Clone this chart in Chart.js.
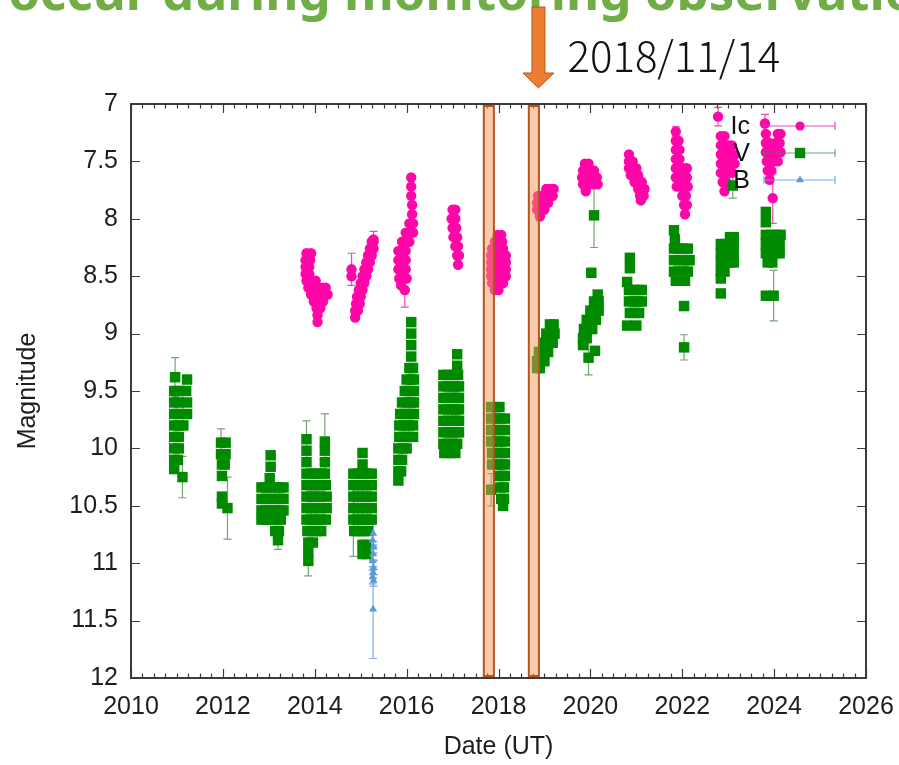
<!DOCTYPE html>
<html>
<head>
<meta charset="utf-8">
<script src="https://cdn.jsdelivr.net/npm/chart.js@4/dist/chart.umd.min.js"></script>
<style>
  html, body { margin: 0; padding: 0; background: #ffffff; }
  #wrap { width: 899px; height: 765px; position: relative; }
  canvas { display: block; }
</style>
</head>
<body>
<div id="wrap"><canvas id="lc" width="899" height="765"></canvas></div>
<script>
// Multi-band light curve (Ic, V, B) with photometric error bars.

const yearTicks = [2010, 2012, 2014, 2016, 2018, 2020, 2022, 2024, 2026];
const magTicks = [7, 7.5, 8, 8.5, 9, 9.5, 10, 10.5, 11, 11.5, 12];
const bandNames = ['Ic', 'V', 'B'];

// Dense measurements, one row per magnitude level: [magnitude, year, year, ...]
const icRows = [
  // 2013-2014 season
  [8.30, 2013.82, 2013.92], [8.36, 2013.80, 2013.90], [8.42, 2013.80, 2013.88], [8.48, 2013.80, 2013.88],
  [8.54, 2013.82, 2013.92, 2014.02], [8.60, 2013.86, 2013.96, 2014.06, 2014.16, 2014.24],
  [8.66, 2013.92, 2014.02, 2014.12, 2014.22, 2014.28], [8.72, 2013.98, 2014.08, 2014.18],
  [8.78, 2014.04, 2014.12], [8.84, 2014.06], [8.90, 2014.06],
  // 2015
  [8.20, 2015.24, 2015.28], [8.26, 2015.20, 2015.28], [8.32, 2015.16, 2015.24], [8.38, 2015.12, 2015.20],
  [8.44, 2015.08, 2015.16], [8.50, 2014.80, 2015.04, 2015.12], [8.56, 2015.00, 2015.08], [8.62, 2014.96, 2015.04],
  [8.68, 2014.92, 2015.00], [8.74, 2014.90, 2014.98], [8.80, 2014.88, 2014.94], [8.86, 2014.88],
  // 2016
  [7.64, 2016.10], [7.72, 2016.10], [7.80, 2016.10], [7.88, 2016.12], [7.96, 2016.12],
  [8.04, 2016.06, 2016.14], [8.12, 2015.98, 2016.06, 2016.14], [8.20, 2015.90, 2015.98, 2016.06],
  [8.28, 2015.82, 2015.90, 2015.98], [8.36, 2015.82, 2015.90, 2015.98], [8.44, 2015.82, 2015.90, 2015.98],
  [8.52, 2015.84, 2015.92, 2016.00], [8.58, 2015.88],
  // 2017
  [7.92, 2017.00, 2017.06], [8.00, 2016.98, 2017.06], [8.08, 2017.00, 2017.08], [8.16, 2017.02, 2017.10],
  [8.24, 2017.06, 2017.12], [8.32, 2017.10, 2017.14], [8.40, 2017.12],
  // 2018
  [8.14, 2017.98, 2018.06], [8.20, 2017.92, 2018.00, 2018.08], [8.26, 2017.86, 2017.94, 2018.02, 2018.10],
  [8.32, 2017.84, 2017.92, 2018.00, 2018.08, 2018.16], [8.38, 2017.84, 2017.92, 2018.00, 2018.08, 2018.16],
  [8.44, 2017.84, 2017.92, 2018.00, 2018.08, 2018.16], [8.50, 2017.84, 2017.92, 2018.00, 2018.08, 2018.16],
  [8.56, 2017.86, 2017.94, 2018.02, 2018.10], [8.62, 2017.92, 2018.00],
  // 2019
  [7.74, 2019.04, 2019.12, 2019.20], [7.80, 2018.86, 2018.94, 2019.02, 2019.10, 2019.18],
  [7.86, 2018.84, 2018.92, 2019.00, 2019.08], [7.92, 2018.84, 2018.92, 2019.00], [7.98, 2018.90],
  // 2020
  [7.52, 2019.88, 2019.96], [7.58, 2019.84, 2019.92, 2020.00, 2020.08],
  [7.64, 2019.82, 2019.90, 2019.98, 2020.06, 2020.14], [7.70, 2019.84, 2019.92, 2020.00, 2020.08, 2020.16],
  [7.76, 2019.90],
  // 2021
  [7.44, 2020.84], [7.50, 2020.84, 2020.92], [7.56, 2020.84, 2020.92, 2021.00], [7.62, 2020.88, 2020.96, 2021.04],
  [7.68, 2020.96, 2021.04, 2021.12], [7.74, 2021.04, 2021.12, 2021.18], [7.80, 2021.08, 2021.16], [7.84, 2021.10],
  // 2022
  [7.32, 2021.86, 2021.92], [7.40, 2021.86, 2021.94], [7.48, 2021.86, 2021.94],
  [7.56, 2021.86, 2021.94, 2022.02, 2022.10], [7.64, 2021.86, 2021.94, 2022.02, 2022.10],
  [7.72, 2021.88, 2021.96, 2022.04, 2022.12], [7.80, 2022.00, 2022.08], [7.88, 2022.04, 2022.10], [7.96, 2022.06],
  // 2023
  [7.28, 2022.84, 2022.92], [7.36, 2022.84, 2022.92, 2023.00, 2023.08],
  [7.44, 2022.84, 2022.92, 2023.00, 2023.08, 2023.14], [7.52, 2022.84, 2022.92, 2023.00, 2023.08, 2023.14],
  [7.60, 2022.84, 2022.92, 2023.00, 2023.08], [7.68, 2022.88, 2022.96], [7.76, 2022.92],
  // 2024
  [7.26, 2023.82, 2024.08, 2024.14], [7.34, 2023.82, 2023.90, 2024.04, 2024.12],
  [7.42, 2023.82, 2023.90, 2023.98, 2024.06, 2024.14], [7.50, 2023.84, 2023.92, 2024.00, 2024.08],
  [7.58, 2023.86, 2023.94], [7.66, 2023.90]
];

// Measurements with visible error bars: [year, magnitude, error]
const icErrPoints = [
  [2014.80, 8.44, 0.14], [2015.28, 8.18, 0.07], [2015.96, 8.62, 0.15], [2021.86, 7.24, 0.04],
  [2022.78, 7.11, 0.08], [2023.80, 7.17, 0.08], [2023.97, 7.82, 0.22]
];

const vRows = [
  // 2011
  [9.40, 2011.22], [9.50, 2010.94, 2011.04, 2011.20], [9.60, 2010.94, 2011.04, 2011.22],
  [9.70, 2010.94, 2011.04, 2011.22], [9.80, 2010.94, 2011.04, 2011.14], [9.90, 2010.94, 2011.04],
  [10.00, 2010.94, 2011.04], [10.10, 2010.94, 2011.02], [10.18, 2010.94],
  // 2012
  [9.95, 2012.06], [10.05, 2011.96, 2012.06], [10.14, 2011.98, 2012.04], [10.24, 2011.98],
  [10.42, 2011.98], [10.48, 2011.98],
  // 2013
  [10.06, 2013.04], [10.16, 2013.04], [10.26, 2013.02],
  [10.34, 2012.84, 2012.94, 2013.04, 2013.14, 2013.24, 2013.32],
  [10.44, 2012.84, 2012.94, 2013.04, 2013.14, 2013.24, 2013.32],
  [10.54, 2012.84, 2012.94, 2013.04, 2013.14, 2013.24, 2013.32],
  [10.62, 2012.84, 2012.94, 2013.06, 2013.16, 2013.26], [10.72, 2013.14, 2013.22],
  // 2014
  [10.02, 2013.82, 2014.22], [10.12, 2013.82, 2014.22],
  [10.22, 2013.82, 2013.92, 2014.02, 2014.12, 2014.22], [10.32, 2013.82, 2013.92, 2014.02, 2014.12, 2014.24],
  [10.42, 2013.82, 2013.92, 2014.02, 2014.12, 2014.26], [10.52, 2013.82, 2013.92, 2014.02, 2014.12, 2014.26],
  [10.62, 2013.82, 2013.92, 2014.02, 2014.12, 2014.24], [10.72, 2013.84, 2013.94, 2014.04, 2014.14],
  [10.82, 2013.86, 2013.96], [10.90, 2013.86],
  // 2015
  [10.04, 2015.04], [10.14, 2015.04],
  [10.22, 2014.84, 2014.94, 2015.04, 2015.14, 2015.24], [10.32, 2014.84, 2014.94, 2015.04, 2015.14, 2015.24],
  [10.42, 2014.84, 2014.94, 2015.04, 2015.14, 2015.24], [10.52, 2014.84, 2014.94, 2015.04, 2015.14, 2015.24],
  [10.62, 2014.94, 2015.04, 2015.14, 2015.24], [10.72, 2014.86, 2014.96, 2015.06, 2015.16],
  [10.84, 2015.04, 2015.12], [10.92, 2015.04, 2015.12],
  // 2016
  [8.90, 2016.10], [9.00, 2016.10], [9.10, 2016.10], [9.20, 2016.10], [9.30, 2016.06, 2016.14],
  [9.40, 2016.00, 2016.10, 2016.16], [9.50, 2015.96, 2016.06, 2016.16],
  [9.60, 2015.90, 2016.00, 2016.10, 2016.16], [9.70, 2015.86, 2015.96, 2016.06, 2016.16],
  [9.80, 2015.84, 2015.94, 2016.04, 2016.14], [9.90, 2015.84, 2015.94, 2016.04, 2016.14],
  [10.00, 2015.82, 2015.92, 2016.00], [10.10, 2015.82, 2015.90], [10.20, 2015.82, 2015.88], [10.28, 2015.82],
  // 2017
  [9.18, 2017.10], [9.28, 2017.10], [9.36, 2016.80, 2016.90, 2017.02, 2017.12],
  [9.46, 2016.80, 2016.90, 2017.00, 2017.08, 2017.14], [9.56, 2016.80, 2016.90, 2017.00, 2017.08, 2017.14],
  [9.66, 2016.80, 2016.90, 2017.00, 2017.08, 2017.14], [9.76, 2016.80, 2016.90, 2017.00, 2017.08, 2017.14],
  [9.86, 2016.80, 2016.90, 2017.00, 2017.08, 2017.14], [9.96, 2016.80, 2016.90, 2017.00, 2017.10],
  [10.04, 2016.82, 2016.96, 2017.06],
  // 2018
  [9.64, 2017.84, 2017.94, 2018.02], [9.74, 2017.84, 2017.94, 2018.04, 2018.14],
  [9.84, 2017.84, 2017.94, 2018.04, 2018.14], [9.94, 2017.84, 2017.94, 2018.04, 2018.14],
  [10.04, 2017.86, 2017.96, 2018.06, 2018.14], [10.14, 2017.86, 2017.98, 2018.06, 2018.14],
  [10.24, 2018.00, 2018.08, 2018.14], [10.34, 2018.04, 2018.12], [10.44, 2018.06, 2018.12], [10.50, 2018.10],
  // 2019
  [8.92, 2019.12, 2019.20], [9.00, 2019.04, 2019.14, 2019.22], [9.08, 2018.98, 2019.08, 2019.18],
  [9.16, 2018.88, 2018.98, 2019.08], [9.24, 2018.84, 2018.92, 2019.00], [9.30, 2018.84, 2018.90],
  // 2020
  [8.66, 2020.16], [8.72, 2020.08, 2020.18], [8.80, 2020.00, 2020.10, 2020.18],
  [8.88, 2019.92, 2020.02, 2020.12], [8.96, 2019.86, 2019.94, 2020.04], [9.04, 2019.84, 2019.92],
  [9.10, 2019.84], [8.47, 2020.02], [9.15, 2020.10],
  // 2021
  [8.34, 2020.86], [8.43, 2020.86], [8.55, 2020.80], [8.62, 2020.84, 2020.94, 2021.04, 2021.12],
  [8.72, 2020.84, 2020.94, 2021.04, 2021.12], [8.82, 2020.86, 2020.96, 2021.06], [8.93, 2020.80, 2021.00],
  // 2022
  [8.10, 2021.82], [8.18, 2021.84], [8.26, 2021.82, 2021.92, 2022.02, 2022.12],
  [8.36, 2021.82, 2021.92, 2022.02, 2022.12, 2022.16], [8.46, 2021.82, 2021.92, 2022.02, 2022.12],
  [8.54, 2021.86, 2021.96, 2022.06], [8.76, 2022.04],
  // 2023
  [8.16, 2023.04, 2023.12], [8.22, 2022.84, 2022.94, 2023.04, 2023.12], [8.30, 2022.84, 2022.94, 2023.04, 2023.12],
  [8.38, 2022.84, 2022.94, 2023.04, 2023.12], [8.46, 2022.84, 2022.92], [8.52, 2022.84], [8.65, 2022.84],
  // 2024
  [7.94, 2023.82], [8.03, 2023.82], [8.14, 2023.82, 2023.94, 2024.06, 2024.14],
  [8.22, 2023.82, 2023.92, 2024.02, 2024.12], [8.30, 2023.82, 2023.92, 2024.02, 2024.12],
  [8.38, 2023.86, 2023.96], [8.67, 2023.82]
];

const vErrPoints = [
  [2010.96, 9.38, 0.17], [2011.12, 10.25, 0.18], [2011.96, 9.95, 0.12], [2012.10, 10.52, 0.27],
  [2013.20, 10.80, 0.08], [2013.82, 9.92, 0.16], [2014.22, 9.94, 0.24], [2013.86, 10.98, 0.13],
  [2014.84, 10.62, 0.32], [2017.84, 10.36, 0.14], [2020.08, 7.97, 0.28], [2019.96, 9.21, 0.15],
  [2022.04, 9.12, 0.11], [2023.10, 7.71, 0.11], [2023.99, 8.67, 0.22]
];

const bErrPoints = [
  [2015.27, 10.74, 0.10], [2015.26, 10.80, 0.05], [2015.28, 10.86, 0.05], [2015.27, 10.92, 0.06],
  [2015.26, 10.98, 0.05], [2015.28, 11.04, 0.06], [2015.27, 11.08, 0.05], [2015.26, 11.12, 0.06],
  [2015.28, 11.15, 0.05], [2015.27, 11.40, 0.43]
];

// Two highlighted observing windows and the marked event date
const markedSpans = [[2017.68, 2017.90], [2018.66, 2018.88]];
const eventDate = 2018.87;
const eventLabel = '2018/11/14';
const headline = 'occur during monitoring observations';

const bandStyles = {
  Ic: { color: '#ff06a8', err: 'rgba(240,40,170,0.85)', shape: 'circle', radius: 5.2 },
  V:  { color: '#008a00', err: 'rgba(70,135,70,0.75)', shape: 'rect', radius: 7.4 },
  B:  { color: '#5b9bd5', err: 'rgba(110,165,225,0.9)', shape: 'triangle', radius: 4.6 }
};

const fromRows = rows => rows.flatMap(([m, ...years]) => years.map(x => ({ x, y: m, e: 0 })));
const fromErr = pts => pts.map(([x, y, e]) => ({ x, y, e }));
const bandData = {
  Ic: fromRows(icRows).concat(fromErr(icErrPoints)),
  V: fromRows(vRows).concat(fromErr(vErrPoints)),
  B: fromErr(bErrPoints)
};

function drawMarker(ctx, shape, r, x, y) {
  ctx.beginPath();
  if (shape === 'circle') {
    ctx.arc(x, y, r, 0, Math.PI * 2);
  } else if (shape === 'rect') {
    const s = r * Math.SQRT1_2;
    ctx.rect(x - s, y - s, 2 * s, 2 * s);
  } else {
    ctx.moveTo(x, y - r);
    ctx.lineTo(x + r * 0.87, y + r * 0.5);
    ctx.lineTo(x - r * 0.87, y + r * 0.5);
    ctx.closePath();
  }
  ctx.fill();
}

// Vertical error bars with caps, drawn beneath the markers
const errorBars = {
  id: 'errorBars',
  beforeDatasetsDraw(chart) {
    const { ctx, chartArea: a } = chart;
    const xs = chart.scales.x, ys = chart.scales.y;
    ctx.save();
    ctx.beginPath();
    ctx.rect(a.left, a.top, a.right - a.left, a.bottom - a.top);
    ctx.clip();
    chart.data.datasets.forEach(ds => {
      ctx.strokeStyle = ds.errColor;
      ctx.lineWidth = 1.2;
      ds.data.forEach(p => {
        if (!p.e) return;
        const x = xs.getPixelForValue(p.x);
        const y1 = ys.getPixelForValue(p.y - p.e);
        const y2 = ys.getPixelForValue(p.y + p.e);
        ctx.beginPath();
        ctx.moveTo(x, y1); ctx.lineTo(x, y2);
        ctx.moveTo(x - 4, y1); ctx.lineTo(x + 4, y1);
        ctx.moveTo(x - 4, y2); ctx.lineTo(x + 4, y2);
        ctx.stroke();
      });
    });
    ctx.restore();
  }
};

// Border, inward ticks, highlighted windows and the key
const frameAndKey = {
  id: 'frameAndKey',
  afterDatasetsDraw(chart) {
    const { ctx, chartArea: a } = chart;
    const xs = chart.scales.x, ys = chart.scales.y;
    ctx.save();

    ctx.strokeStyle = '#3c3c3c';
    ctx.lineWidth = 2;
    ctx.strokeRect(a.left, a.top, a.right - a.left, a.bottom - a.top);

    // x ticks every quarter year, long ones at labelled years
    ctx.lineWidth = 1.2;
    ctx.beginPath();
    for (let q = xs.min * 4; q <= xs.max * 4; q++) {
      const v = q / 4;
      const len = yearTicks.includes(v) ? 9 : 4.5;
      const px = Math.round(xs.getPixelForValue(v)) + 0.5;
      ctx.moveTo(px, a.bottom); ctx.lineTo(px, a.bottom - len);
      ctx.moveTo(px, a.top); ctx.lineTo(px, a.top + len);
    }
    magTicks.forEach(m => {
      const py = Math.round(ys.getPixelForValue(m)) + 0.5;
      ctx.moveTo(a.left, py); ctx.lineTo(a.left + 9, py);
      ctx.moveTo(a.right, py); ctx.lineTo(a.right - 9, py);
    });
    ctx.stroke();

    // highlighted windows
    markedSpans.forEach(([x0, x1]) => {
      const p0 = xs.getPixelForValue(x0), p1 = xs.getPixelForValue(x1);
      const top = a.top + 2, bot = a.bottom - 2;
      ctx.fillStyle = 'rgba(241,151,91,0.5)';
      ctx.fillRect(p0, top, p1 - p0, bot - top);
      ctx.strokeStyle = '#b5561d';
      ctx.lineWidth = 2;
      ctx.strokeRect(p0, top, p1 - p0, bot - top);
    });

    // key
    ctx.font = '25px "Liberation Sans", Arial, sans-serif';
    ctx.textAlign = 'right';
    ctx.textBaseline = 'middle';
    bandNames.forEach((name, i) => {
      const st = bandStyles[name];
      const y = a.top + 22 + i * 27;
      const l0 = a.right - 102, l1 = a.right - 31, mid = a.right - 66;
      ctx.fillStyle = '#111111';
      ctx.fillText(name, a.right - 116, y + 1);
      ctx.strokeStyle = st.err;
      ctx.lineWidth = 1.2;
      ctx.beginPath();
      ctx.moveTo(l0, y); ctx.lineTo(l1, y);
      ctx.moveTo(l0, y - 4); ctx.lineTo(l0, y + 4);
      ctx.moveTo(l1, y - 4); ctx.lineTo(l1, y + 4);
      ctx.stroke();
      ctx.fillStyle = st.color;
      drawMarker(ctx, st.shape, name === 'Ic' ? 4.6 : st.radius, mid, y);
    });
    ctx.restore();
  },
  afterDraw(chart) {
    const { ctx } = chart;
    const xs = chart.scales.x;
    ctx.save();

    // headline
    ctx.font = 'bold 51px "Noto Sans", sans-serif';
    ctx.fillStyle = '#70ad47';
    ctx.textAlign = 'left';
    ctx.textBaseline = 'alphabetic';
    const lead = ctx.measureText('occur during ').width;
    ctx.fillText(headline, 344 - lead, 10);

    // arrow pointing at the event date
    const ax = xs.getPixelForValue(eventDate);
    ctx.fillStyle = '#ed7d31';
    ctx.strokeStyle = '#ae5a21';
    ctx.lineWidth = 1;
    ctx.beginPath();
    ctx.moveTo(ax - 6.5, 7);
    ctx.lineTo(ax + 6.5, 7);
    ctx.lineTo(ax + 6.5, 73);
    ctx.lineTo(ax + 15.5, 73);
    ctx.lineTo(ax, 88);
    ctx.lineTo(ax - 15.5, 73);
    ctx.lineTo(ax - 6.5, 73);
    ctx.closePath();
    ctx.fill();
    ctx.stroke();

    ctx.font = '300 42px "Noto Sans CJK JP", sans-serif';
    ctx.fillStyle = '#111111';
    ctx.fillText(eventLabel, ax + 29, 72);
    ctx.restore();
  }
};

const datasets = bandNames.map((name, i) => ({
  label: name,
  data: bandData[name],
  errColor: bandStyles[name].err,
  pointStyle: bandStyles[name].shape,
  pointRadius: bandStyles[name].radius,
  pointBackgroundColor: bandStyles[name].color,
  pointBorderWidth: 0,
  pointHoverRadius: bandStyles[name].radius,
  showLine: false,
  order: 3 - i
}));

const tickFont = { family: '"Liberation Sans", Arial, sans-serif', size: 25 };
const titleFont = { family: '"Liberation Sans", Arial, sans-serif', size: 25 };

new Chart(document.getElementById('lc'), {
  type: 'scatter',
  data: { datasets },
  options: {
    responsive: false,
    animation: false,
    devicePixelRatio: 1,
    layout: { padding: { left: 0, top: 104, right: 33, bottom: 0 } },
    plugins: { legend: { display: false }, tooltip: { enabled: false } },
    scales: {
      x: {
        type: 'linear',
        min: yearTicks[0],
        max: yearTicks[yearTicks.length - 1],
        afterBuildTicks: s => { s.ticks = yearTicks.map(v => ({ value: v })); },
        afterFit: s => { s.height = 87; s.paddingLeft = 0; s.paddingRight = 0; },
        grid: { display: false, drawTicks: false },
        border: { display: false },
        ticks: { font: tickFont, color: '#1e1e1e', padding: 14, maxRotation: 0, autoSkip: false,
                 callback: v => String(v) },
        title: { display: true, text: 'Date (UT)', font: titleFont, color: '#1e1e1e',
                 padding: { top: 0, bottom: 3 } }
      },
      y: {
        type: 'linear',
        reverse: true,
        min: magTicks[0],
        max: magTicks[magTicks.length - 1],
        afterBuildTicks: s => { s.ticks = magTicks.map(v => ({ value: v })); },
        afterFit: s => { s.width = 131; s.paddingTop = 0; s.paddingBottom = 0; },
        grid: { display: false, drawTicks: false },
        border: { display: false },
        ticks: { font: tickFont, color: '#1e1e1e', padding: 13, autoSkip: false,
                 callback: v => String(v) },
        title: { display: true, text: 'Magnitude', font: titleFont, color: '#1e1e1e',
                 padding: { top: 13, bottom: 0 } }
      }
    }
  },
  plugins: [errorBars, frameAndKey]
});
</script>
</body>
</html>
